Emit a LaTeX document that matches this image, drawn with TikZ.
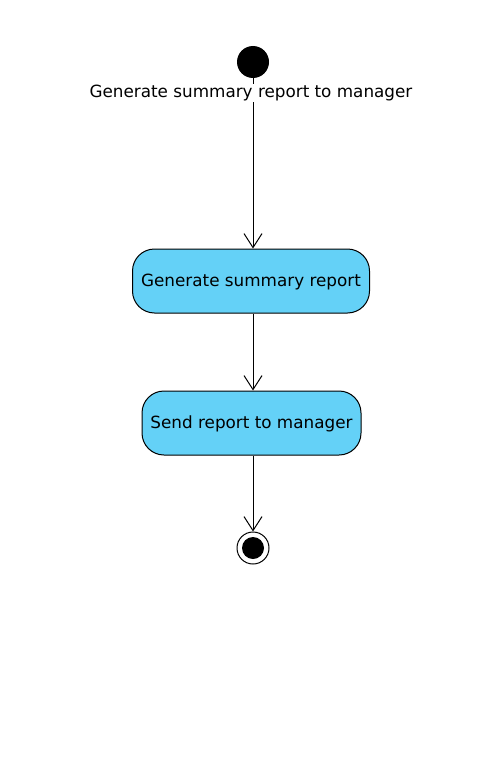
\documentclass[tikz,border=0pt]{standalone}
\usepackage{fontspec}
\setmainfont{DejaVu Sans}
\usetikzlibrary{arrows.meta}
\definecolor{actfill}{HTML}{64D1F7}
\tikzset{
  act/.style={draw=black, line width=1bp, fill=actfill, rounded corners=22bp, minimum height=64bp, inner sep=0pt, text depth=2bp, font=\fontsize{16.8bp}{20bp}\selectfont},
  flow/.style={draw=black, line width=1bp, -{Straight Barb[length=14bp,width=18bp,line width=1bp]}},
  lbl/.style={fill=white, inner sep=1bp, font=\fontsize{16.8bp}{20bp}\selectfont},
}
\begin{document}
\begin{tikzpicture}[x=1bp,y=-1bp]
\useasboundingbox (0,0) rectangle (482,775);
\node[circle, fill=black, minimum size=32bp, inner sep=0pt] (start) at (253,62) {};
\node[act, minimum width=237bp] (a1) at (251,281) {Generate summary report};
\node[act, minimum width=219bp] (a2) at (251.5,423) {Send report to manager};
\node[circle, draw=black, line width=1bp, fill=white, minimum size=32bp, inner sep=0pt] (end) at (253,548) {};
\node[circle, fill=black, minimum size=22bp, inner sep=0pt] (endin) at (end.center) {};
\draw[flow] (start) -- (start |- a1.north);
\node[lbl] (label) at (251,93) {Generate summary report to manager};
\draw[flow] (start |- a1.south) -- (start |- a2.north);
\draw[flow] (start |- a2.south) -- (end);
\end{tikzpicture}
\end{document}
